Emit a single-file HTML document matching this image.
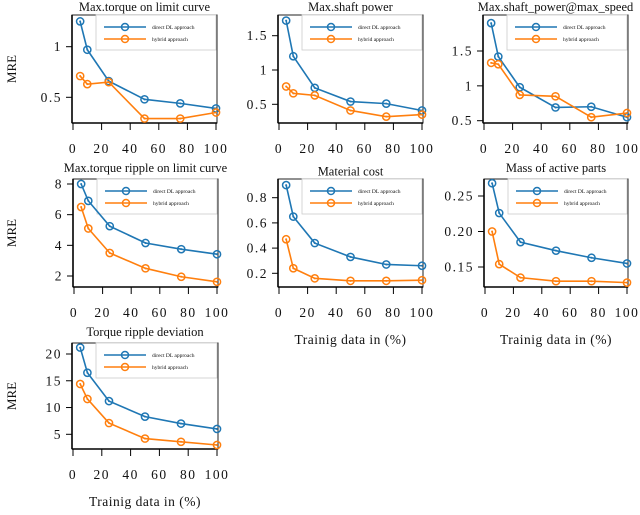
<!DOCTYPE html>
<html><head><meta charset="utf-8"><style>
body{margin:0;background:#fff}
svg text{font-family:"Liberation Serif",serif;fill:#111}
</style></head><body>
<svg id="c" width="640" height="510" viewBox="0 0 640 510" xmlns="http://www.w3.org/2000/svg"></svg>
<script>
const xValues=[5,10,25,50,75,100];
const xTicks=[0,20,40,60,80,100];
const titles=["Max.torque on limit curve","Max.shaft power","Max.shaft_power@max_speed","Max.torque ripple on limit curve","Material cost","Mass of active parts","Torque ripple deviation"];
const directP1=[1.25,0.97,0.66,0.48,0.44,0.39];
const hybridP1=[0.71,0.63,0.65,0.29,0.29,0.35];
const directP2=[1.72,1.2,0.74,0.54,0.51,0.41];
const hybridP2=[0.76,0.66,0.63,0.41,0.32,0.35];
const directP3=[1.9,1.42,0.98,0.69,0.70,0.55];
const hybridP3=[1.33,1.31,0.87,0.85,0.55,0.61];
const directP4=[8.0,6.9,5.25,4.15,3.75,3.42];
const hybridP4=[6.5,5.1,3.5,2.5,1.95,1.62];
const directP5=[0.9,0.65,0.44,0.33,0.27,0.26];
const hybridP5=[0.47,0.24,0.16,0.14,0.14,0.145];
const directP6=[0.268,0.226,0.185,0.173,0.163,0.155];
const hybridP6=[0.2,0.154,0.135,0.13,0.13,0.128];
const directP7=[21.2,16.5,11.2,8.3,7.0,6.0];
const hybridP7=[14.4,11.6,7.1,4.2,3.6,3.0];
const yTicksP1=[0.5,1];const yLabP1=["0.5","1"];
const yTicksP2=[0.5,1,1.5];const yLabP2=["0.5","1","1.5"];
const yTicksP3=[0.5,1,1.5];const yLabP3=["0.5","1","1.5"];
const yTicksP4=[2,4,6,8];const yLabP4=["2","4","6","8"];
const yTicksP5=[0.2,0.4,0.6,0.8];const yLabP5=["0.2","0.4","0.6","0.8"];
const yTicksP6=[0.15,0.2,0.25];const yLabP6=["0.15","0.20","0.25"];
const yTicksP7=[5,10,15,20];const yLabP7=["5","10","15","20"];
const legendLabels=["direct DL approach","hybrid approach"];

const NS="http://www.w3.org/2000/svg";
const svg=document.getElementById('c');
function el(t,a,p){const e=document.createElementNS(NS,t);for(const k in a)e.setAttribute(k,a[k]);(p||svg).appendChild(e);return e;}
function txt(s,a,p){const e=el('text',a,p);e.textContent=s;return e;}

const panels=[
 {L:72,R:217,T:15,B:123,t0:[0.5,97.3],t1:[1,46.7],d:directP1,h:hybridP1,yt:yTicksP1,yl:yLabP1,ty:7,xl:false,mre:true},
 {L:278,R:423,T:15,B:123,t0:[0.5,104.3],t1:[1.5,35.7],d:directP2,h:hybridP2,yt:yTicksP2,yl:yLabP2,ty:7,xl:false},
 {L:483,R:628,T:15,B:123,t0:[0.5,120.7],t1:[1.5,51],d:directP3,h:hybridP3,yt:yTicksP3,yl:yLabP3,ty:7,xl:false},
 {L:73,R:218,T:179,B:287,t0:[2,276],t1:[8,184],d:directP4,h:hybridP4,yt:yTicksP4,yl:yLabP4,ty:168,xl:false,mre:true},
 {L:278,R:423,T:179,B:287,t0:[0.2,273.3],t1:[0.8,197.7],d:directP5,h:hybridP5,yt:yTicksP5,yl:yLabP5,ty:171.5,xl:true},
 {L:484,R:628,T:179,B:287,t0:[0.15,267],t1:[0.25,196],d:directP6,h:hybridP6,yt:yTicksP6,yl:yLabP6,ty:168,xl:true},
 {L:72,R:218,T:343,B:449,t0:[5,434.3],t1:[20,354],d:directP7,h:hybridP7,yt:yTicksP7,yl:yLabP7,ty:332,xl:true,mre:true}
];
const BLUE="#1f77b4",ORANGE="#ff7f0e";
panels.forEach((p,i)=>{
  const g=el('g',{});
  
  
  const xs=v=>p.L+1+(v/100)*(p.R-p.L-2);
  const k=(p.t1[1]-p.t0[1])/(p.t1[0]-p.t0[0]);
  const ys=v=>p.t0[1]+(v-p.t0[0])*k;
  const t=txt(titles[i],{x:(p.L+p.R)/2,y:p.ty+4,'text-anchor':'middle','font-size':12.5},g);
  
  
  el('rect',{x:p.L,y:p.T,width:p.R-p.L,height:p.B-p.T,fill:'none',stroke:'#222','stroke-width':1},g);
  el('line',{x1:p.L,y1:p.T,x2:p.L,y2:p.B,stroke:'#000','stroke-width':1.6},g);
  el('line',{x1:p.L,y1:p.B,x2:p.R,y2:p.B,stroke:'#000','stroke-width':1.6},g);
  xTicks.forEach(v=>{
    el('line',{x1:xs(v),y1:p.B,x2:xs(v),y2:p.B+7,stroke:'#000','stroke-width':1},g);
    const lb=txt(String(v),{x:xs(v),y:p.B+30,'text-anchor':'middle','font-size':13.5,'letter-spacing':'1.5'},g);
    
    
  });
  p.yt.forEach((v,j)=>{
    el('line',{x1:p.L-6,y1:ys(v),x2:p.L,y2:ys(v),stroke:'#000','stroke-width':1},g);
    const lb=txt(p.yl[j],{x:p.L-10,y:ys(v)+4.5,'text-anchor':'end','font-size':13.5,'letter-spacing':'1.5'},g);
    
    
  });
  const lx=p.L+24, ly=p.T;
  const lg=el('g',{},g);
  
  
  el('rect',{x:lx,y:ly,width:p.R-lx-1,height:35,fill:'#fff',stroke:'#ccc','stroke-width':0.8},lg);
  [[BLUE,12],[ORANGE,24]].forEach((c,j)=>{
    el('line',{x1:lx+8,y1:ly+c[1],x2:lx+50,y2:ly+c[1],stroke:c[0],'stroke-width':1.6},lg);
    el('circle',{cx:lx+29,cy:ly+c[1],r:3.5,fill:'none',stroke:c[0],'stroke-width':1.5},lg);
    txt(legendLabels[j],{x:lx+56,y:ly+c[1]+2,'font-size':5.5},lg);
  });
  [[p.d,BLUE,'direct'],[p.h,ORANGE,'hybrid']].forEach(s=>{
    const pts=xValues.map((x,j)=>xs(x)+','+ys(s[0][j])).join(' ');
    const ln=el('polyline',{points:pts,fill:'none',stroke:s[1],'stroke-width':1.6},g);
    
    
    xValues.forEach((x,j)=>{
      const m=el('circle',{cx:xs(x),cy:ys(s[0][j]),r:3.6,fill:'none',stroke:s[1],'stroke-width':1.5},g);
      
      
      el('circle',{cx:xs(x),cy:ys(s[0][j]),r:1,fill:s[1]},g);
    });
  });
  if(p.mre){
    const cy=(p.T+p.B)/2;
    const m=txt('MRE',{x:16,y:cy,'text-anchor':'middle','font-size':13,transform:`rotate(-90 16 ${cy})`},g);
    
    
  }
  if(p.xl){
    const xt=txt('Trainig data in (%)',{x:(p.L+p.R)/2,y:p.B+57,'text-anchor':'middle','font-size':13.5,'letter-spacing':'0.5'},g);
    
    
  }
});
</script>
</body></html>
